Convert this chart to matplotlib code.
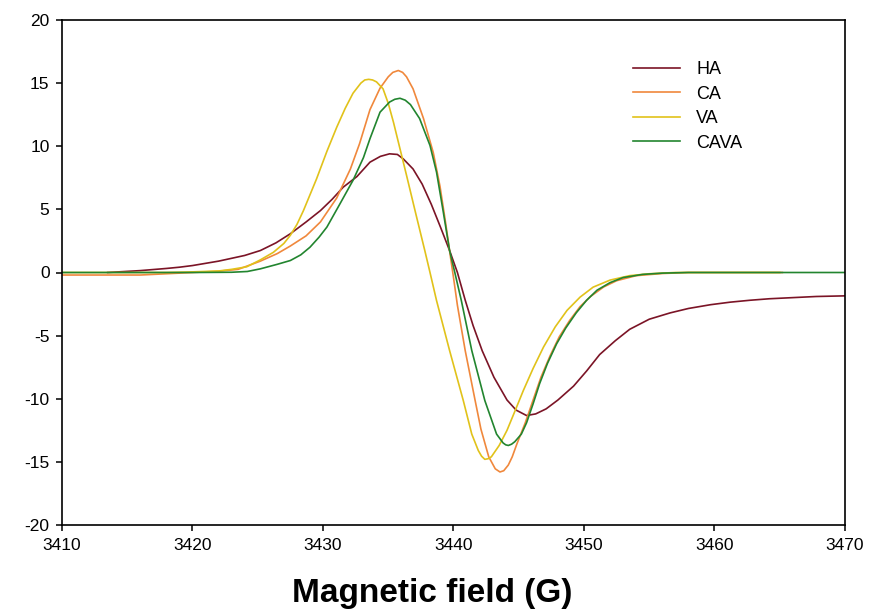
import matplotlib
matplotlib.use("Agg")
import matplotlib.pyplot as plt

plt.rcParams['font.family'] = ['Liberation Sans', 'DejaVu Sans']
plt.rcParams['axes.unicode_minus'] = False

# ---- data ----
series_names = ["HA", "CA", "VA", "CAVA"]

ha_field = [3413.5, 3416, 3418, 3419, 3420, 3422, 3424, 3425.2, 3426.4, 3427.5, 3428.7, 3429.8,
            3430.7, 3431.55, 3432.6, 3433.6, 3434.4, 3435.1, 3435.7, 3436.15, 3436.9, 3437.6,
            3438.3, 3439.0, 3439.7, 3440.3, 3440.9, 3441.5, 3442.2, 3443.1, 3444.1, 3444.8,
            3445.6, 3446.3, 3447.1, 3448.0, 3449.2, 3450.2, 3451.2, 3452.4, 3453.5, 3455.0,
            3456.6, 3458.0, 3459.7, 3461.2, 3462.7, 3464.2, 3465.8, 3467.8, 3470]
ha_signal = [0.0, 0.15, 0.32, 0.42, 0.55, 0.9, 1.35, 1.74, 2.35, 3.07, 4.0, 4.9,
             5.8, 6.76, 7.6, 8.74, 9.2, 9.4, 9.35, 9.0, 8.2, 7.0,
             5.4, 3.6, 1.74, 0.0, -2.2, -4.2, -6.2, -8.3, -10.1, -10.9,
             -11.33, -11.2, -10.8, -10.1, -9.0, -7.8, -6.5, -5.4, -4.5, -3.7,
             -3.2, -2.85, -2.55, -2.35, -2.2, -2.08, -2.0, -1.9, -1.85]

ca_field = [3410, 3416, 3418, 3420, 3422, 3423.5, 3425.2, 3426.5, 3427.5, 3428.7, 3429.8,
            3431.05, 3432.1, 3432.8, 3433.6, 3434.37, 3435.0, 3435.35, 3435.77, 3436.1, 3436.4,
            3436.9, 3437.7, 3438.45, 3438.97, 3439.4, 3439.8, 3440.0, 3440.3, 3440.9, 3441.65,
            3442.1, 3442.7, 3443.2, 3443.56, 3443.85, 3444.2, 3444.5, 3444.85, 3445.5, 3446.1,
            3446.7, 3447.4, 3448.1, 3448.9, 3449.7, 3450.5, 3451.5, 3452.5, 3454, 3456,
            3458, 3465.2]
ca_signal = [-0.2, -0.2, -0.1, 0.0, 0.1, 0.25, 0.9, 1.5, 2.1, 2.9, 4.0,
             5.9, 8.2, 10.2, 12.9, 14.6, 15.5, 15.85, 16.0, 15.85, 15.5,
             14.55, 12.2, 9.5, 6.8, 3.9, 1.0, -0.4, -2.6, -6.2, -10.1,
             -12.4, -14.6, -15.55, -15.8, -15.7, -15.25, -14.6, -13.6, -11.9, -10.1,
             -8.3, -6.6, -5.1, -3.8, -2.7, -1.9, -1.15, -0.65, -0.25, -0.08,
             0.0, 0.0]

va_field = [3410, 3418, 3420, 3422, 3423, 3424.15, 3425.2, 3426.2, 3427.0, 3427.5, 3428.0,
            3428.5, 3429.5, 3430.3, 3431.05, 3431.7, 3432.3, 3432.9, 3433.2, 3433.5, 3433.8,
            3434.1, 3434.6, 3435.0, 3435.4, 3435.9, 3436.4, 3437.1, 3437.8, 3438.2, 3438.7,
            3439.7, 3440.75, 3441.4, 3441.9, 3442.15, 3442.4, 3442.65, 3442.9, 3443.5, 3444.1,
            3444.7, 3445.35, 3446.1, 3446.9, 3447.8, 3448.7, 3449.7, 3450.7, 3452, 3453.5,
            3455, 3457, 3465]
va_signal = [0.0, 0.0, 0.05, 0.12, 0.25, 0.45, 1.0, 1.6, 2.3, 2.95, 3.8,
             4.9, 7.4, 9.6, 11.5, 13.0, 14.2, 15.0, 15.25, 15.3, 15.25,
             15.1, 14.55, 13.4, 11.9, 9.8, 7.7, 4.7, 1.74, 0.0, -2.22,
             -6.18, -10.14, -12.8, -14.1, -14.55, -14.8, -14.75, -14.6, -13.7, -12.5,
             -11.0, -9.35, -7.6, -5.9, -4.3, -3.0, -1.95, -1.16, -0.6, -0.25,
             -0.1, 0.0, 0.0]

cava_field = [3410, 3420, 3423, 3424.2, 3425.2, 3426.5, 3427.5, 3428.3, 3429.0, 3429.7, 3430.3,
              3431.3, 3432.3, 3433.1, 3433.6, 3434.37, 3435.1, 3435.5, 3435.9, 3436.3, 3436.7,
              3437.4, 3438.2, 3438.7, 3439.2, 3439.7, 3440.1, 3440.6, 3441.4, 3442.4, 3443.3,
              3443.8, 3444.0, 3444.2, 3444.45, 3444.7, 3445.2, 3445.6, 3446.1, 3446.6, 3447.2,
              3447.9, 3448.6, 3449.4, 3450.2, 3451.0, 3452.0, 3453.0, 3454.5, 3456, 3458, 3470]
cava_signal = [0.0, 0.0, 0.02, 0.08, 0.29, 0.65, 0.95, 1.4, 2.0, 2.8, 3.6,
               5.44, 7.3, 9.1, 10.6, 12.7, 13.5, 13.72, 13.8, 13.65, 13.3,
               12.2, 10.06, 7.95, 4.9, 1.74, 0.0, -2.22, -6.18, -10.14, -12.8,
               -13.5, -13.65, -13.7, -13.6, -13.4, -12.8, -11.9, -10.4, -8.8, -7.2,
               -5.65, -4.4, -3.2, -2.2, -1.4, -0.8, -0.4, -0.15, -0.05, 0.0, 0.0]

series_colors = ["#7B1426", "#F0883C", "#E1C21A", "#22852F"]

x_ticks = [3410, 3420, 3430, 3440, 3450, 3460, 3470]
y_ticks = [-20, -15, -10, -5, 0, 5, 10, 15, 20]
x_label = "Magnetic field (G)"

# ---- figure ----
W, H = 872, 615
fig = plt.figure(figsize=(W / 100, H / 100), dpi=100)
L, R, T, B = 62, 845, 20, 525
ax = fig.add_axes([L / W, 1 - B / H, (R - L) / W, (B - T) / H])

fields = [ha_field, ca_field, va_field, cava_field]
signals = [ha_signal, ca_signal, va_signal, cava_signal]
for name, xs, ys, c in zip(series_names, fields, signals, series_colors):
    ax.plot(xs, ys, color=c, lw=1.2, label=name, solid_joinstyle='round')

ax.set_xlim(3410, 3470)
ax.set_ylim(-20, 20)
ax.set_xticks(x_ticks)
ax.set_yticks(y_ticks)
ax.tick_params(direction='out', length=4, width=1.1, labelsize=12.5, colors='black', pad=5)
for s in ax.spines.values():
    s.set_linewidth(1.2)
    s.set_color('black')

ax.set_xlabel(x_label, fontsize=24, fontweight='bold')
ax.xaxis.set_label_coords((432 - L) / (R - L), -0.104)

leg = ax.legend(loc='upper left', bbox_to_anchor=((633 - L) / (R - L), (B - 61) / (B - T)),
                frameon=False, fontsize=13, handlelength=2.6, handletextpad=0.9,
                labelspacing=0.42, borderpad=0, borderaxespad=0)

fig.savefig("out.png", dpi=100)
